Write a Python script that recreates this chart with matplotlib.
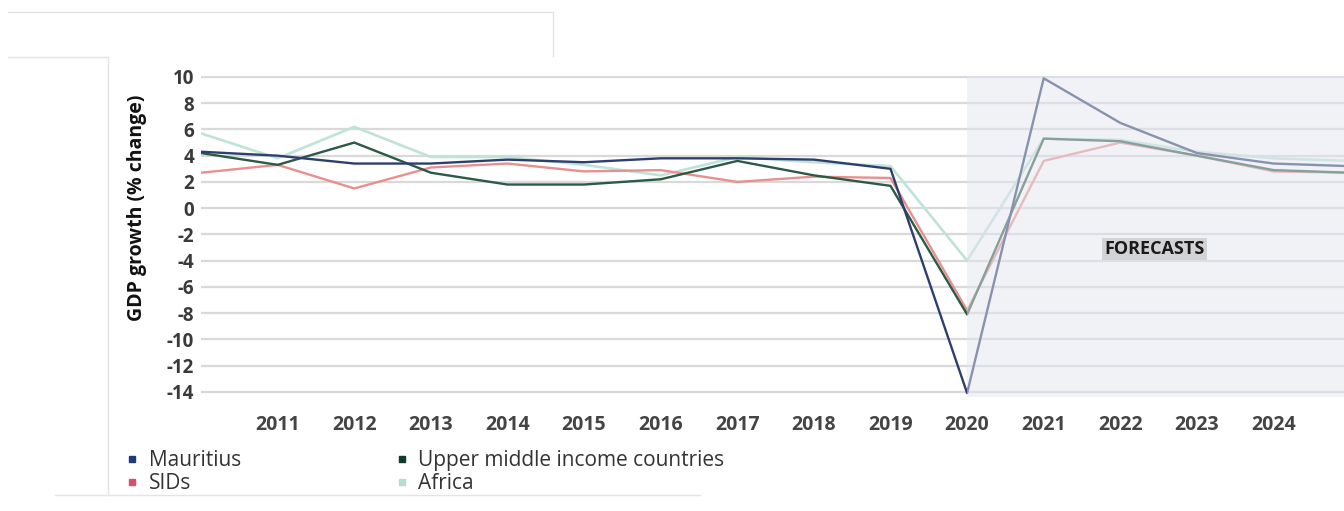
import numpy as np
import matplotlib.pyplot as plt
from matplotlib.lines import Line2D

plt.rcParams['font.family'] = ['Open Sans', 'DejaVu Sans']
plt.rcParams['axes.unicode_minus'] = False

years = np.arange(2010, 2026)

# GDP growth, % change (2021 onwards are forecasts)
mauritius = [4.3, 4.0, 3.4, 3.4, 3.7, 3.5, 3.8, 3.8, 3.7, 3.0, -14.1, 9.9, 6.5, 4.2, 3.4, 3.2]
umic = [4.2, 3.3, 5.0, 2.7, 1.8, 1.8, 2.2, 3.6, 2.5, 1.7, -8.1, 5.3, 5.1, 4.0, 2.9, 2.7]
sids = [2.7, 3.3, 1.5, 3.1, 3.4, 2.8, 2.9, 2.0, 2.4, 2.3, -7.8, 3.6, 5.0, 4.0, 2.8, 2.7]
africa = [5.7, 3.8, 6.2, 3.9, 3.9, 3.3, 2.5, 3.9, 3.5, 3.2, -4.0, 5.3, 5.2, 4.3, 3.8, 3.6]

year_ticks = list(range(2011, 2025))
y_ticks = list(range(-14, 11, 2))
forecast_start = 2020

fig = plt.figure(figsize=(13.44, 5.11), dpi=100)
ax = fig.add_axes([0.1496, 0.2231, 0.8504, 0.6288])

for y in y_ticks:
    ax.axhline(y, color='#d9d9d9', lw=1.6, zorder=0)

ax.plot(years, africa, color='#bfe3d8', lw=1.9, zorder=2)
ax.plot(years, sids, color='#e8908f', lw=1.7, zorder=3)
ax.plot(years, umic, color='#2b5a45', lw=1.7, zorder=4)
ax.plot(years, mauritius, color='#2e3f6e', lw=1.7, zorder=5)

# washed-out panel over the forecast years
ax.axvspan(forecast_start, 2026, ymin=0, ymax=1, color='#e3e6ef', alpha=0.5,
           lw=0, zorder=6)

ax.text(2022.45, -3.1, 'FORECASTS', fontsize=13, fontweight='bold', color='#1a1a1a',
        ha='center', va='center', zorder=7,
        bbox=dict(boxstyle='square,pad=0.12', fc='#d3d3d6', ec='none'))

ax.set_xlim(2010, 2024.92)
ax.set_ylim(-14.4, 10.1)
ax.set_xticks(year_ticks)
ax.set_xticklabels([str(y) for y in year_ticks])
ax.set_yticks(y_ticks)
ax.tick_params(axis='y', length=0, labelsize=13.5, labelcolor='#3a3a3a', pad=5)
ax.tick_params(axis='x', length=0, labelsize=14, labelcolor='#444444', pad=13)
for lab in ax.get_xticklabels() + ax.get_yticklabels():
    lab.set_fontweight('bold')
for s in ax.spines.values():
    s.set_visible(False)

ax.set_ylabel('GDP growth (% change)', fontsize=14, fontweight='bold', color='#111111')
ax.yaxis.set_label_coords(-0.047, 0.59)

handles = [
    Line2D([], [], ls='none', marker='s', ms=5, color='#1f3a78', label='Mauritius'),
    Line2D([], [], ls='none', marker='s', ms=5, color='#d9506a', label='SIDs'),
    Line2D([], [], ls='none', marker='s', ms=5, color='#0d3b2a', label='Upper middle income countries'),
    Line2D([], [], ls='none', marker='s', ms=5, color='#b5ddd0', label='Africa'),
]
leg = fig.legend(handles=handles, ncol=2, loc='upper left', bbox_to_anchor=(0.0845, 0.135),
                 frameon=False, fontsize=15, handletextpad=0.3, columnspacing=7.2,
                 labelspacing=0.1, handlelength=1.0, borderaxespad=0)
for t in leg.get_texts():
    t.set_color('#333333')

# faint frame lines around the panel
def faint(x0, y0, x1, y1):
    fig.add_artist(Line2D([x0 / 1344, x1 / 1344], [1 - y0 / 511, 1 - y1 / 511],
                          color='#e4e4e4', lw=1))

faint(8, 12, 553, 12)
faint(553, 12, 553, 56)
faint(8, 57, 108, 57)
faint(108, 57, 108, 495)
faint(55, 495, 700, 495)

fig.savefig('out.png', dpi=100)
